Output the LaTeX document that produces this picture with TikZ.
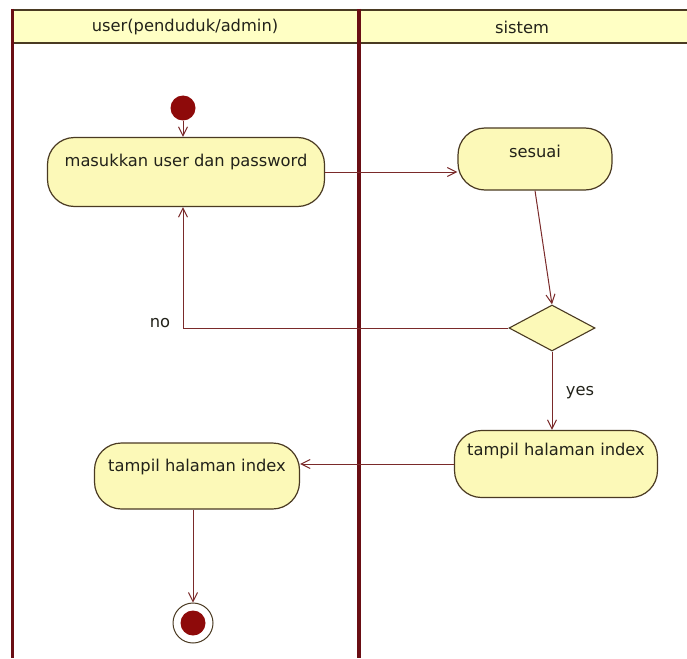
\documentclass[tikz,border=0pt]{standalone}
\usepackage{fontspec}
\setmainfont{DejaVu Sans}
\usetikzlibrary{arrows.meta,shapes.geometric}
\definecolor{laneline}{HTML}{6A0E14}
\definecolor{headfill}{HTML}{FFFFC4}
\definecolor{actfill}{HTML}{FCF9B8}
\definecolor{actline}{HTML}{4A3A22}
\definecolor{flow}{HTML}{7A2A2A}
\definecolor{dot}{HTML}{8E0A0A}
\definecolor{ink}{HTML}{22221A}
\tikzset{
  x=1pt, y=-1pt,
  activity/.style={draw=actline, line width=1.2pt, fill=actfill, rounded corners=27pt,
    font=\fontsize{16.3}{18}\selectfont, text=ink, text height=12pt, text depth=30pt,
    inner xsep=12pt, inner ysep=0pt},
  decision/.style={diamond, draw=actline, line width=1.1pt, fill=actfill,
    minimum width=86pt, minimum height=46pt, inner sep=0pt, aspect=1.87},
  startnode/.style={circle, fill=dot, minimum size=25pt, inner sep=0pt},
  endring/.style={circle, draw=actline, line width=1pt, fill=white, minimum size=40pt, inner sep=0pt},
  enddot/.style={circle, fill=dot, minimum size=25pt, inner sep=0pt},
  flowline/.style={draw=flow, line width=1pt, -{Straight Barb[length=9pt,width=9pt,line width=1pt]}},
  guard/.style={font=\fontsize{16.3}{18}\selectfont, text=ink},
  lanehead/.style={font=\fontsize{16.3}{18}\selectfont, text=ink}
}
\begin{document}
\begin{tikzpicture}
\useasboundingbox (0,0) rectangle (687,658);
\fill[white] (0,0) rectangle (687,658);

% swimlane header band
\fill[headfill] (12,10) rectangle (687,43);
\draw[actline, line width=2.5pt] (12,10) -- (687,10);
\draw[actline, line width=2.5pt] (12,43) -- (687,43);
\node[lanehead] (h1) at (185,27) {user(penduduk/admin)};
\node[lanehead] (h2) at (522,27) {sistem};

% lane borders
\draw[laneline, line width=3pt] (12,9) -- (12,658);
\draw[laneline, line width=4pt] (359,9) -- (359,658);

% activity nodes
\node[startnode] (start) at (183,108) {};
\node[activity, minimum width=277pt, minimum height=69pt, text depth=24pt] (login) at (186,172) {masukkan user dan password};
\node[activity, minimum width=154pt, minimum height=62pt, text depth=15pt] (cek) at (535,159) {sesuai};
\node[decision] (dec) at (552,328) {};
\node[activity, minimum width=203pt, minimum height=67pt, text depth=30pt] (idx2) at (556,464) {tampil halaman index};
\node[activity, minimum width=205pt, minimum height=66pt, text depth=22pt] (idx1) at (197,476) {tampil halaman index};
\node[endring] (stopring) at (193,623) {};
\node[enddot] (stop) at (193,623) {};

% control flows
\draw[flowline] (start) -- (start |- login.north);
\draw[flowline] (login.east) -- (login.east -| cek.west);
\draw[flowline] (cek.south) -- (dec.north);
\draw[flowline] (dec.west) -- (dec.west -| start) -- (start |- login.south);
\draw[flowline] (dec.south) -- (dec.south |- idx2.north);
\draw[flowline] (idx2.west) -- (idx2.west -| idx1.east);
\draw[flowline] (idx1.south -| stopring) -- (stopring.north);

% guards
\node[guard] (gno) at (160,323) {no};
\node[guard] (gyes) at (580,393) {yes};
\end{tikzpicture}
\end{document}
